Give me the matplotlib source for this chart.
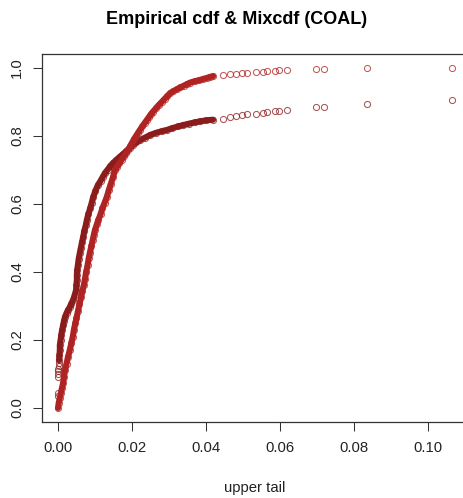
import matplotlib
matplotlib.use("Agg")
import matplotlib.pyplot as plt

# ---------------- data ----------------
# Empirical cdf, dense part
ecdf_x = [0.0000, 0.0002, 0.0005, 0.0008, 0.0011, 0.0014, 0.0016, 0.0019, 0.0023, 0.0027,
          0.0032, 0.0036, 0.0040, 0.0043, 0.0047, 0.0050, 0.0054, 0.0058, 0.0062, 0.0066,
          0.0070, 0.0073, 0.0076, 0.0080, 0.0083, 0.0086, 0.0090, 0.0094, 0.0097, 0.0100,
          0.0105, 0.0109, 0.0115, 0.0120, 0.0126, 0.0132, 0.0137, 0.0143, 0.0149, 0.0154,
          0.0160, 0.0166, 0.0172, 0.0178, 0.0184, 0.0189, 0.0195, 0.0200, 0.0205, 0.0211,
          0.0216, 0.0222, 0.0228, 0.0234, 0.0240, 0.0246, 0.0251, 0.0257, 0.0265, 0.0273,
          0.0281, 0.0288, 0.0295, 0.0303, 0.0312, 0.0322, 0.0331, 0.0340, 0.0349, 0.0357,
          0.0369, 0.0381, 0.0393, 0.0403, 0.0411, 0.0419]
ecdf_y = [0.000, 0.015, 0.030, 0.045, 0.060, 0.074, 0.090, 0.112, 0.130, 0.150,
          0.171, 0.190, 0.210, 0.230, 0.250, 0.265, 0.285, 0.305, 0.325, 0.345,
          0.362, 0.380, 0.400, 0.420, 0.440, 0.456, 0.475, 0.495, 0.510, 0.524,
          0.540, 0.553, 0.570, 0.587, 0.604, 0.621, 0.640, 0.660, 0.680, 0.700,
          0.710, 0.720, 0.730, 0.740, 0.750, 0.759, 0.770, 0.780, 0.790, 0.800,
          0.809, 0.819, 0.828, 0.838, 0.847, 0.856, 0.864, 0.872, 0.882, 0.892,
          0.901, 0.909, 0.917, 0.926, 0.932, 0.938, 0.943, 0.948, 0.953, 0.957,
          0.961, 0.964, 0.968, 0.971, 0.974, 0.976]

# Mixture cdf, dense part
mix_x = [0.0000, 0.0000, 0.0001, 0.0001, 0.0001, 0.0001, 0.0002, 0.0002, 0.0003,
         0.0004, 0.0005, 0.0005, 0.0007, 0.0009, 0.0011, 0.0014, 0.0016, 0.0019, 0.0023,
         0.0027, 0.0032, 0.0036, 0.0041, 0.0045, 0.0049, 0.0050, 0.0051, 0.0051, 0.0052,
         0.0054, 0.0056, 0.0059, 0.0062, 0.0065, 0.0068, 0.0071, 0.0075, 0.0078, 0.0082,
         0.0087, 0.0091, 0.0095, 0.0101, 0.0108, 0.0115, 0.0121, 0.0127, 0.0134, 0.0141,
         0.0149, 0.0158, 0.0167, 0.0176, 0.0185, 0.0194, 0.0203, 0.0212, 0.0222, 0.0235,
         0.0249, 0.0264, 0.0280, 0.0295, 0.0309, 0.0324, 0.0338, 0.0353, 0.0369, 0.0384,
         0.0400, 0.0419]
mix_y = [0.035, 0.045, 0.092, 0.100, 0.108, 0.116, 0.124, 0.132, 0.141,
         0.155, 0.170, 0.185, 0.200, 0.215, 0.229, 0.243, 0.256, 0.268, 0.279,
         0.288, 0.297, 0.307, 0.318, 0.332, 0.347, 0.362, 0.377, 0.392, 0.406,
         0.422, 0.439, 0.456, 0.472, 0.488, 0.503, 0.520, 0.537, 0.553, 0.570,
         0.587, 0.603, 0.620, 0.638, 0.656, 0.668, 0.680, 0.691, 0.701, 0.711,
         0.721, 0.730, 0.739, 0.747, 0.756, 0.765, 0.774, 0.781, 0.788, 0.795,
         0.803, 0.809, 0.814, 0.818, 0.823, 0.828, 0.832, 0.836, 0.840, 0.843,
         0.846, 0.848]

# Sparse upper-tail observations (shared x)
tail_x = [0.0445, 0.0465, 0.0481, 0.0496, 0.0510, 0.0535, 0.0555, 0.0566, 0.0586,
          0.0598, 0.0618, 0.0697, 0.0720, 0.0834, 0.1066]
tail_ecdf = [0.979, 0.981, 0.982, 0.984, 0.985, 0.987, 0.988, 0.990, 0.991,
             0.993, 0.994, 0.996, 0.997, 0.999, 1.000]
tail_mix = [0.850, 0.857, 0.860, 0.863, 0.865, 0.866, 0.869, 0.871, 0.874,
            0.874, 0.877, 0.885, 0.886, 0.895, 0.906]

x_ticks = [0.00, 0.02, 0.04, 0.06, 0.08, 0.10]
x_ticklabels = ["0.00", "0.02", "0.04", "0.06", "0.08", "0.10"]
y_ticks = [0.0, 0.2, 0.4, 0.6, 0.8, 1.0]
y_ticklabels = ["0.0", "0.2", "0.4", "0.6", "0.8", "1.0"]

title = "Empirical cdf & Mixcdf (COAL)"
xlabel = "upper tail"

# ---------------- drawing ----------------
plt.rcParams['font.family'] = ['Liberation Sans', 'DejaVu Sans']

W, H = 464, 498
fig = plt.figure(figsize=(W / 100, H / 100), dpi=100)
ax = fig.add_axes([42 / W, (H - 422) / H, 428 / W, 368 / H])

col_ecdf = '#B02323'
col_mix = '#8A1C1C'
band_lw = 4.4
ms = 4.4
mew = 0.75

# mixture cdf (band + circles)
ax.plot(mix_x[8:], mix_y[8:], '-', color=col_mix, lw=band_lw,
        solid_capstyle='round', solid_joinstyle='round', zorder=2)
ax.plot(mix_x + tail_x, mix_y + tail_mix, 'o', mfc='none', mec=col_mix,
        ms=ms, mew=mew, ls='none', zorder=3, alpha=0.75)

# empirical cdf (band + circles)
ax.plot(ecdf_x, ecdf_y, '-', color=col_ecdf, lw=band_lw,
        solid_capstyle='round', solid_joinstyle='round', zorder=4)
ax.plot(ecdf_x + tail_x, ecdf_y + tail_ecdf, 'o', mfc='none', mec=col_ecdf,
        ms=ms, mew=mew, ls='none', zorder=5, alpha=0.75)

ax.set_xlim(-0.004324, 0.11135)
ax.set_ylim(-0.0412, 1.0412)
ax.set_xticks(x_ticks)
ax.set_xticklabels(x_ticklabels)
ax.set_yticks(y_ticks)
ax.set_yticklabels(y_ticklabels)

ax.tick_params(axis='both', length=6.5, width=0.75, colors='#333333',
               labelsize=10.7, labelcolor='#222222')
ax.tick_params(axis='x', pad=7.5)
ax.tick_params(axis='y', pad=6.5)
for lab in ax.get_yticklabels():
    lab.set_rotation(90)
    lab.set_va('center')
    lab.set_ha('right')

for s in ax.spines.values():
    s.set_linewidth(0.9)
    s.set_color('#333333')

fig.text(237 / W, 1 - 24 / H, title, ha='center', va='baseline',
         fontsize=13, fontweight='bold')
fig.text(255 / W, 1 - 492 / H, xlabel, ha='center', va='baseline',
         fontsize=10.7, color='#222222')

fig.savefig('out.png', dpi=100)
